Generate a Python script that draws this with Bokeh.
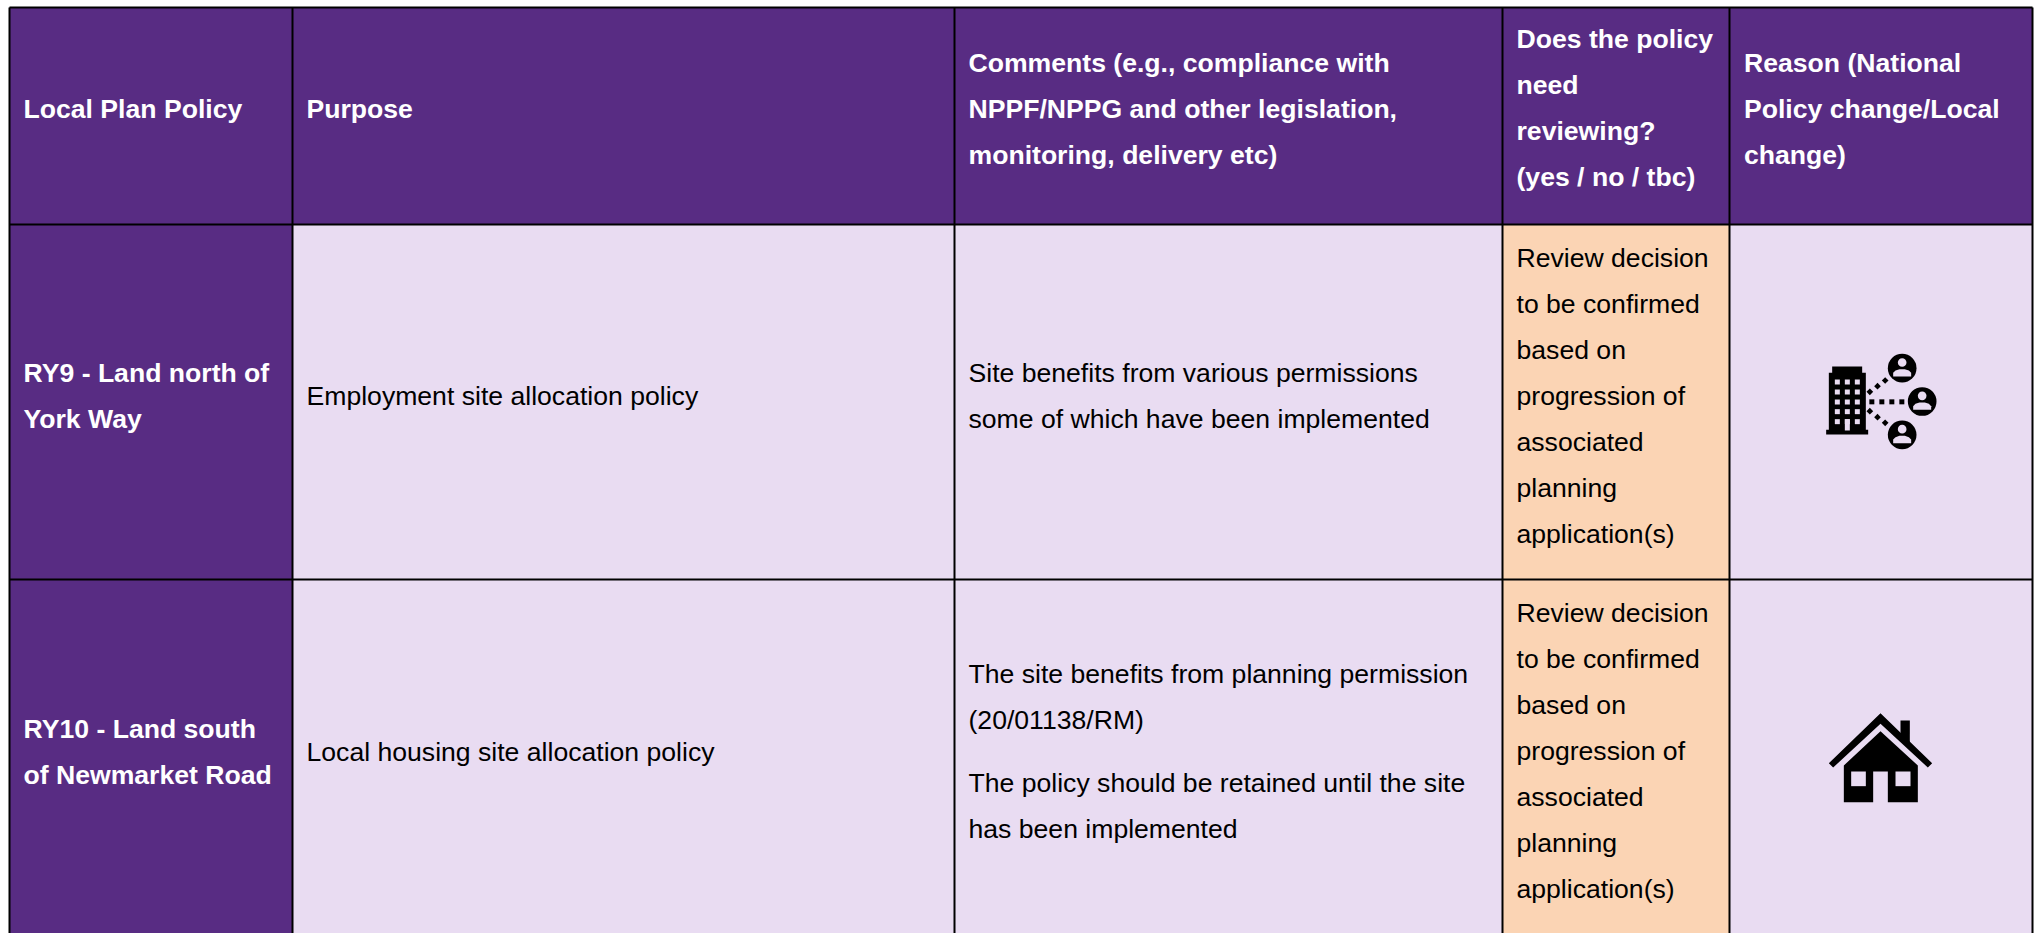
from bokeh.plotting import figure
from bokeh.models import Range1d
from bokeh.core.properties import value
from bokeh.embed import file_html
from bokeh.resources import INLINE

PURPLE = "#582C83"
LILAC = "#E9DCF2"
PEACH = "#FBD4B4"
INK = "#000000"
W, H = 2036, 933
FONT = "Liberation Sans"
FS = "26.6px"

headers = [
    ["Local Plan Policy"],
    ["Purpose"],
    ["Comments (e.g., compliance with", "NPPF/NPPG and other legislation,", "monitoring, delivery etc)"],
    ["Does the policy", "need", "reviewing?", "(yes / no / tbc)"],
    ["Reason (National", "Policy change/Local", "change)"],
]
policies = [["RY9 - Land north of", "York Way"], ["RY10 - Land south", "of Newmarket Road"]]
purposes = [["Employment site allocation policy"], ["Local housing site allocation policy"]]
comments = [
    ["Site benefits from various permissions", "some of which have been implemented"],
    ["The site benefits from planning permission", "(20/01138/RM)", "The policy should be retained until the site", "has been implemented"],
]
review = ["Review decision", "to be confirmed", "based on", "progression of", "associated", "planning", "application(s)"]

col_x = [9, 292, 954, 1502, 1729, 2032]
row_y = [7, 224, 579, 933]
text_x = [23, 306, 968, 1516, 1743.5]
LINE = 46.1
TEXT_SHIFT = -9

p = figure(width=W, height=H, x_range=Range1d(0, W), y_range=Range1d(H, 0),
           toolbar_location=None, output_backend="svg", min_border=0,
           outline_line_color=None, margin=(0, -8, -8, 0))
p.axis.visible = False
p.grid.visible = False
p.background_fill_color = "#FFFFFF"
p.border_fill_color = "#FFFFFF"


def cell(c, r, color):
    p.quad(left=col_x[c], right=col_x[c + 1], top=row_y[r], bottom=row_y[r + 1],
           fill_color=color, line_color=None)


def write(x, ys, lines, color, bold=False):
    p.text(x=[x] * len(lines), y=[v + TEXT_SHIFT for v in ys], text=lines, text_color=color,
           text_font=value(FONT), text_font_size=FS,
           text_font_style="bold" if bold else "normal",
           text_baseline="alphabetic", text_align="left")


def block(first, n):
    return [first + i * LINE for i in range(n)]


for c in range(5):
    cell(c, 0, PURPLE)
for r in (1, 2):
    cell(0, r, PURPLE)
    cell(1, r, LILAC)
    cell(2, r, LILAC)
    cell(3, r, PEACH)
    cell(4, r, LILAC)

# grid lines
p.segment(x0=col_x, x1=col_x, y0=[row_y[0]] * 6, y1=[H] * 6, line_color=INK, line_width=2)
p.segment(x0=[col_x[0]] * 3, x1=[col_x[-1]] * 3, y0=row_y[:3], y1=row_y[:3], line_color=INK, line_width=2)

# header text
head_first = [117, 117, 71, 47, 71]
for i, lines in enumerate(headers):
    write(text_x[i], block(head_first[i], len(lines)), lines, "#FFFFFF", True)

# row 1
write(text_x[0], block(381, 2), policies[0], "#FFFFFF", True)
write(text_x[1], [404], purposes[0], INK)
write(text_x[2], block(381, 2), comments[0], INK)
write(text_x[3], block(266, 7), review, INK)
# row 2
write(text_x[0], block(737, 2), policies[1], "#FFFFFF", True)
write(text_x[1], [760], purposes[1], INK)
write(text_x[2], block(682, 2) + block(791, 2), comments[1], INK)
write(text_x[3], block(621, 7), review, INK)


# ---- building-and-people icon (zoom px / 3 + crop origin)
def bx(v):
    return 1760 + v / 3


def by(v):
    return 330 + v / 3


def rect(x0, x1, y0, y1, color=INK):
    p.quad(left=bx(x0), right=bx(x1), top=by(y0), bottom=by(y1), fill_color=color, line_color=None)


rect(215, 305, 108, 130)
rect(205, 316, 127, 300)
rect(197, 323, 298, 312)
for wy in (147, 177, 207, 236, 266):
    for wx in (223, 253, 283):
        rect(wx, wx + 15, wy, wy + 15, LILAC)
rect(253, 268, 266, 300, LILAC)

for cx, cy in ((425, 113), (485, 213), (425, 313)):
    p.circle(x=[bx(cx)], y=[by(cy)], radius=43 / 3, fill_color=INK, line_color=None)
    p.circle(x=[bx(cx)], y=[by(cy - 17)], radius=13 / 3, fill_color=LILAC, line_color=None)
    p.patch(x=[bx(cx + d) for d in (-27, -27, -20, -8, 8, 20, 27, 27)],
            y=[by(cy + d) for d in (25, 14, 7, 3, 3, 7, 14, 25)],
            fill_color=LILAC, line_color=None)

for dx in (334, 364, 394, 424):
    rect(dx - 7.5, dx + 7.5, 206.5, 221.5)
for dx, dy in ((328, 184), (351, 167), (374, 150), (328, 242), (351, 260), (374, 277)):
    p.patch(x=[bx(dx - 10), bx(dx), bx(dx + 10), bx(dx)],
            y=[by(dy), by(dy - 10), by(dy), by(dy + 10)], fill_color=INK, line_color=None)


# ---- house icon
def hx(v):
    return 1790 + v / 3


def hy(v):
    return 690 + v / 3


def hpoly(xs, ys, color=INK):
    p.patch(x=[hx(v) for v in xs], y=[hy(v) for v in ys], fill_color=color, line_color=None)


hpoly([330, 358, 358, 330], [90, 90, 160, 130])
hpoly([115, 270, 425, 412, 270, 128], [218, 68, 218, 231, 100, 231])
hpoly([160, 270, 382, 382, 292, 292, 248, 248, 160], [225, 122, 225, 335, 335, 243, 243, 335, 335])
hpoly([182, 226, 226, 182], [243, 243, 287, 287], LILAC)
hpoly([315, 360, 360, 315], [243, 243, 287, 287], LILAC)

open("out.html", "w").write(file_html(p, INLINE))
